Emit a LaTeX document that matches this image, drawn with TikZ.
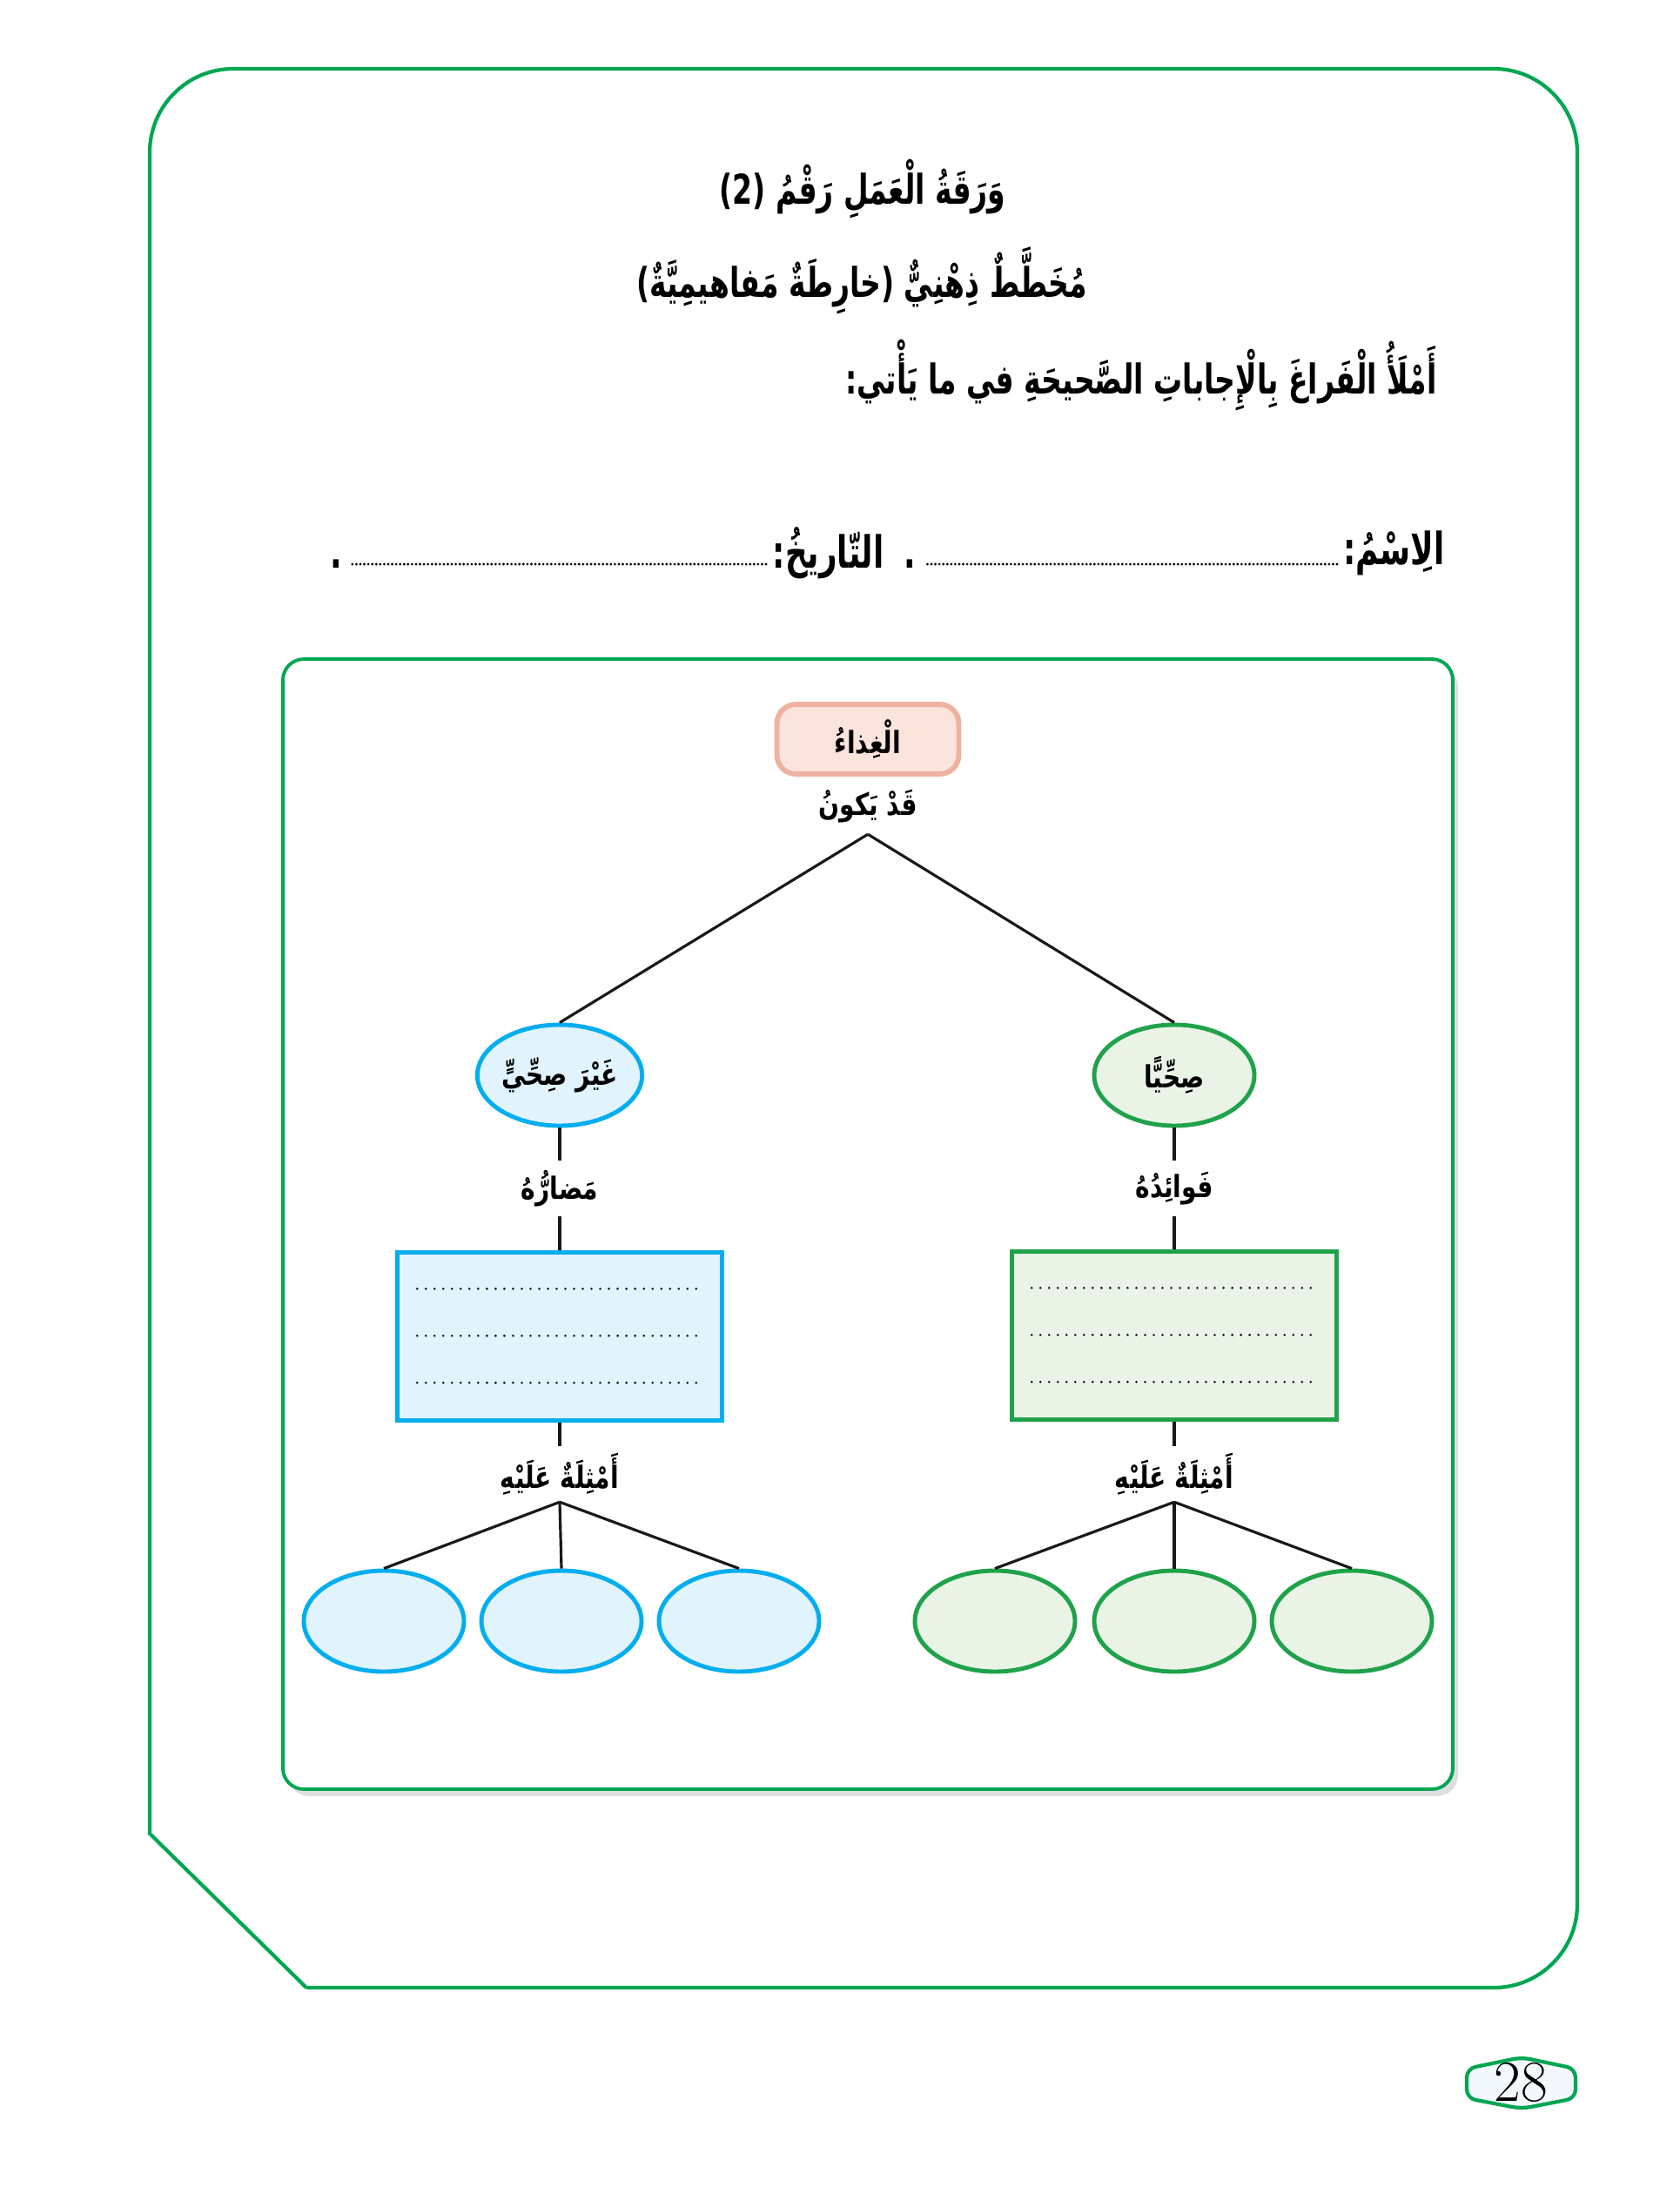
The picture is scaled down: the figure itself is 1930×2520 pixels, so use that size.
\documentclass[tikz,border=0pt]{standalone}
\usepackage{fontspec}
\usetikzlibrary{shapes.geometric,shadows}
\TeXXeTstate=1
\newfontfamily\arabicfont[Script=Arabic]{DejaVu Sans}
\newfontfamily\headfont[Script=Arabic, FakeStretch=0.7]{DejaVu Sans}
\newfontfamily\labelfont[Script=Arabic, FakeStretch=0.8]{DejaVu Sans}
\newcommand{\rtl}[1]{\beginR#1\endR}
\definecolor{framegreen}{HTML}{00A651}
\definecolor{pinkfill}{HTML}{FBE4DB}
\definecolor{pinkline}{HTML}{EEB3A0}
\definecolor{cyanline}{HTML}{00AEEF}
\definecolor{cyanfill}{HTML}{E1F3FC}
\definecolor{leafline}{HTML}{1FA24A}
\definecolor{leaffill}{HTML}{E9F4E6}
\definecolor{tagfill}{HTML}{F2F8FC}
\tikzset{
  pageframe/.style={draw=framegreen, line width=1.2pt},
  panel/.style={draw=framegreen, line width=1.1pt, fill=white, rounded corners=2.4mm,
    drop shadow={opacity=0.25, shadow xshift=0.6mm, shadow yshift=-0.8mm}},
  headtext/.style={font=\headfont\bfseries\fontsize{13.4}{16}\selectfont},
  nametext/.style={font=\headfont\bfseries\fontsize{14.5}{17}\selectfont},
  nameline/.style={line width=0.9pt, line cap=round, dash pattern=on 0pt off 1.3pt},
  topic/.style={draw=pinkline, fill=pinkfill, line width=1.7pt, rounded corners=2.2mm,
    minimum width=20.9mm, minimum height=8mm},
  label/.style={minimum height=6.3mm},
  badoval/.style={ellipse, draw=cyanline, fill=cyanfill, line width=1.4pt,
    minimum width=18.4mm, minimum height=11.6mm},
  goodoval/.style={ellipse, draw=leafline, fill=leaffill, line width=1.4pt,
    minimum width=18.4mm, minimum height=11.6mm},
  badbox/.style={draw=cyanline, fill=cyanfill, line width=1.3pt,
    minimum width=37.3mm, minimum height=19.3mm},
  goodbox/.style={draw=leafline, fill=leaffill, line width=1.3pt,
    minimum width=37.3mm, minimum height=19.3mm},
  link/.style={line width=0.9pt, black!90},
  fillline/.style={line width=0.8pt, line cap=round, dash pattern=on 0pt off 2.85pt},
  pagetag/.style={draw=framegreen, fill=tagfill, line width=1.2pt, rounded corners=1mm}
}
\begin{document}
\begin{tikzpicture}[x=0.1mm, y=-0.1mm,
  every node/.style={font=\labelfont\bfseries\fontsize{10}{12}\selectfont, inner sep=0pt}]
\useasboundingbox (0,0) rectangle (1930,2520);

% page frame
\draw[pageframe] (352,2283) -- (172,2106) -- (172,1200);
\draw[pageframe, rounded corners=9.6mm] (172,1200) -- (172,79) -- (1812,79) -- (1812,2283) -- (352,2283);

% heading
\node[headtext] (sheet) at (991,217) {\rtl{وَرَقَةُ الْعَمَلِ رَقْمُ (2)}};
\node[headtext] (mindmap) at (990,322) {\rtl{مُخَطَّطٌ ذِهْنِيٌّ (خارِطَةٌ مَفاهيمِيَّةٌ)}};
\node[headtext, anchor=east] (task) at (1651,431) {\rtl{أَمْلَأُ الْفَراغَ بِالْإِجاباتِ الصَّحيحَةِ في ما يَأْتي:}};

% name and date
\node[nametext, anchor=east] (name) at (1660,635) {\rtl{الِاسْمُ:}};
\node[nametext, anchor=east] (date) at (1016,635) {\rtl{التّاريخُ:}};
\draw[nameline] (1536,648) -- (1061,648);
\draw[nameline] (880,648) -- (402,648);
\node[nametext, anchor=base] (stopA) at (1045,652) {.};
\node[nametext, anchor=base] (stopB) at (386,652) {.};

% panel
\draw[panel] (325,757) rectangle (1669,2055);

% diagram
\node[topic] (food) at (997,849) {\rtl{الْغِذاءُ}};
\node[label] (maybe) at (997,926) {\rtl{قَدْ يَكونُ}};
\node[badoval] (unhealthy) at (643,1235) {\rtl{غَيْرَ صِحِّيٍّ}};
\node[goodoval] (healthy) at (1349,1235) {\rtl{صِحِّيًّا}};
\node[label] (harms) at (643,1365) {\rtl{مَضارُّهُ}};
\node[label] (benefits) at (1349,1365) {\rtl{فَوائِدُهُ}};
\node[badbox] (harmbox) at (643,1535) {};
\node[goodbox] (benefitbox) at (1349,1534) {};
\node[label] (badex) at (643,1693) {\rtl{أَمْثِلَةٌ عَلَيْهِ}};
\node[label] (goodex) at (1349,1693) {\rtl{أَمْثِلَةٌ عَلَيْهِ}};
\foreach \i/\x in {1/441,2/645,3/849} \node[badoval] (bad\i) at (\x,1862) {};
\foreach \i/\x in {1/1143,2/1349,3/1553} \node[goodoval] (good\i) at (\x,1862) {};

% blanks to fill
\foreach \b in {harmbox,benefitbox}
  \foreach \dy in {44,98,152}
    \draw[fillline] ([shift={(25,\dy)}]\b.north west) -- ([shift={(-25,\dy)}]\b.north east);

% connectors
\draw[link] (maybe.south) -- (unhealthy.north);
\draw[link] (maybe.south) -- (healthy.north);
\draw[link] (unhealthy.south) -- (harms.north);
\draw[link] (harms.south) -- (harmbox.north);
\draw[link] (healthy.south) -- (benefits.north);
\draw[link] (benefits.south) -- (benefitbox.north);
\draw[link] (harmbox.south) -- (badex.north);
\draw[link] (benefitbox.south) -- (goodex.north);
\foreach \i in {1,2,3} {
  \draw[link] (badex.south) -- (bad\i.north);
  \draw[link] (goodex.south) -- (good\i.north);
}

% page number
\draw[pagetag] (1685,2376) -- (1748,2363) -- (1810,2376) -- (1810,2410) -- (1748,2422) -- (1685,2410) -- cycle;
\node[font=\normalfont\fontsize{19}{21}\selectfont] (pagenum) at (1747,2392) {28};
\end{tikzpicture}
\end{document}
